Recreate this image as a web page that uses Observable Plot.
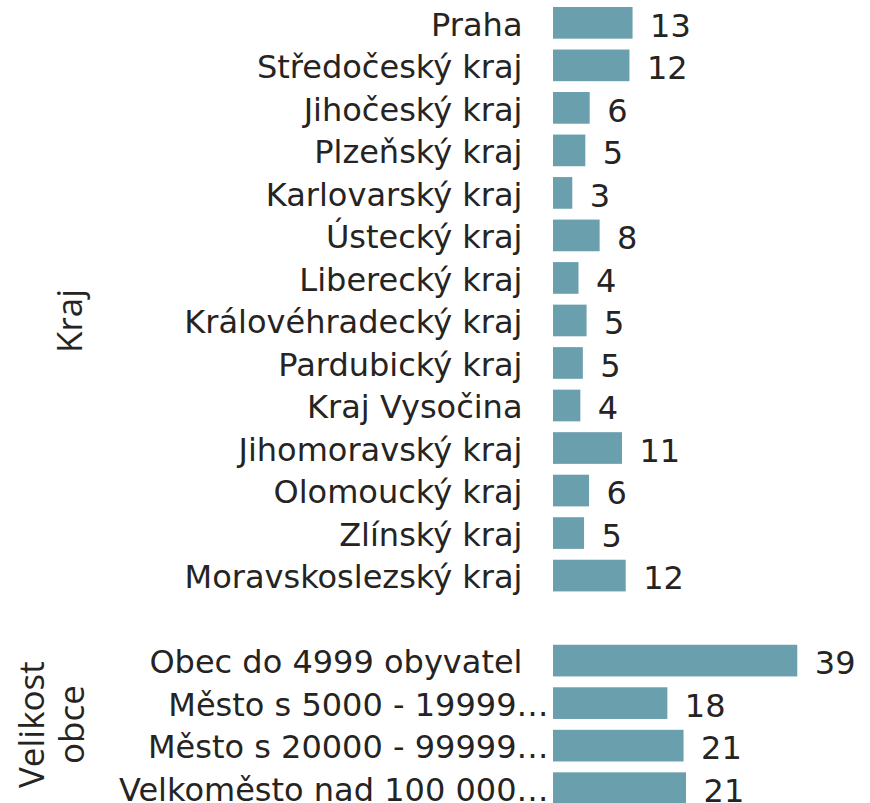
<!DOCTYPE html>
<html>
<head>
<meta charset="utf-8">
<script src="https://cdn.jsdelivr.net/npm/d3@7"></script>
<script src="https://cdn.jsdelivr.net/npm/@observablehq/plot@0.6"></script>
<style>
  html, body { margin: 0; padding: 0; background: #ffffff; overflow: hidden; }
</style>
</head>
<body>
<div id="chart"></div>
<script>
// ---- data (percent shares; labels shown rounded) ----
const krajCategories = [
  "Praha", "Středočeský kraj", "Jihočeský kraj", "Plzeňský kraj", "Karlovarský kraj",
  "Ústecký kraj", "Liberecký kraj", "Královéhradecký kraj", "Pardubický kraj",
  "Kraj Vysočina", "Jihomoravský kraj", "Olomoucký kraj", "Zlínský kraj", "Moravskoslezský kraj"
];
const krajValues = [12.8, 12.3, 5.9, 5.2, 3.1, 7.5, 4.1, 5.4, 4.8, 4.4, 11.1, 5.8, 5.0, 11.7];

const sizeCategories = [
  "Obec do 4999 obyvatel", "Město s 5000 - 19999…", "Město s 20000 - 99999…", "Velkoměsto nad 100 000…"
];
const sizeValues = [39.3, 18.4, 21.0, 21.4];

const groupTitles = ["Kraj", "Velikost obce"];
const spacer = " ";

// ---- table built from the arrays ----
const rows = [
  ...krajCategories.map((c, i) => ({group: groupTitles[0], category: c, value: krajValues[i]})),
  ...sizeCategories.map((c, i) => ({group: groupTitles[1], category: c, value: sizeValues[i]}))
];
const yDomain = [...krajCategories, spacer, ...sizeCategories];

const textColor = "#252423";
const barColor = "#6a9fae";
const labelFont = "DejaVu Sans, Verdana, sans-serif";
const titleFont = "Open Sans, Noto Sans, sans-serif";

const chart = Plot.plot({
  width: 870,
  height: 804,
  marginLeft: 553,
  marginRight: 0,
  marginTop: 7,
  marginBottom: 0,
  style: {fontFamily: labelFont, color: textColor, background: "#ffffff", overflow: "visible"},
  x: {domain: [0, 51], axis: null},
  y: {domain: yDomain, paddingInner: 0.255, paddingOuter: 0, round: false, axis: null},
  marks: [
    Plot.barX(rows, {x: "value", y: "category", fill: barColor}),
    Plot.text(rows, {
      x: "value", y: "category",
      text: d => String(Math.round(d.value)),
      textAnchor: "start", dx: 17, dy: 3,
      fontSize: 32, fill: textColor
    }),
    Plot.text(rows.filter(d => !d.category.endsWith("…")), {
      y: "category", text: "category", frameAnchor: "left",
      textAnchor: "end", dx: -31, dy: 2, fontSize: 32, fill: textColor
    }),
    Plot.text(rows.filter(d => d.category.endsWith("…")), {
      y: "category", text: "category", frameAnchor: "left",
      textAnchor: "end", dx: -5, dy: 2, fontSize: 32, fill: textColor
    }),
    Plot.text([groupTitles[0]], {
      y: () => krajCategories[7], text: d => d, frameAnchor: "left",
      textAnchor: "middle", lineAnchor: "middle",
      rotate: -90, dx: -483, fontSize: 35, fontFamily: titleFont, fill: textColor
    }),
    Plot.text([groupTitles[1]], {
      y: () => sizeCategories[1], text: d => d.replace(" ", "\n"), frameAnchor: "left",
      textAnchor: "middle", lineAnchor: "middle",
      rotate: -90, dx: -502, dy: 21, lineHeight: 1.12,
      fontSize: 35, fontFamily: titleFont, fill: textColor
    })
  ]
});

document.getElementById("chart").appendChild(chart);
</script>
</body>
</html>
